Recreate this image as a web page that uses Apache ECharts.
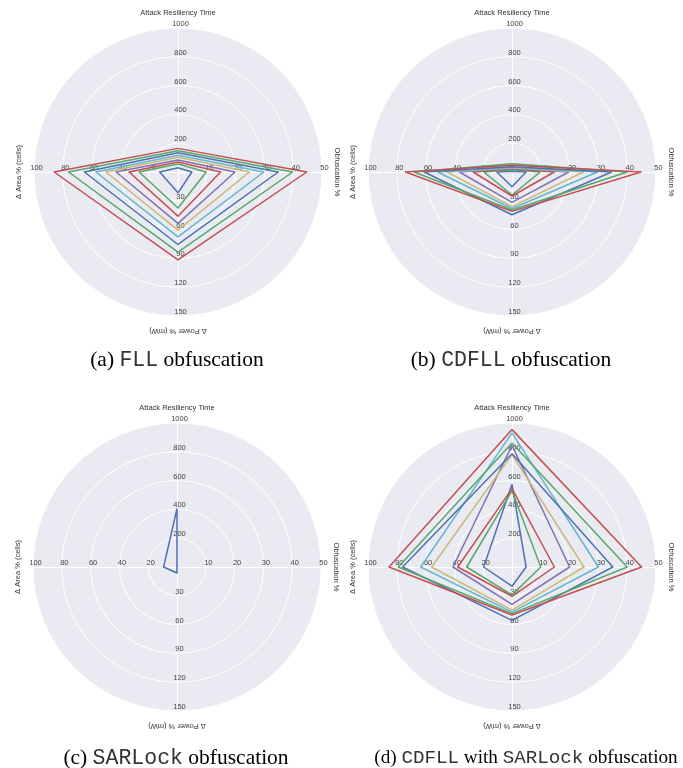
<!DOCTYPE html>
<html><head><meta charset="utf-8">
<script src="https://cdn.jsdelivr.net/npm/echarts@6/dist/echarts.min.js"></script>
<style>html,body{margin:0;padding:0;background:#fff}#c{width:683px;height:768px}</style>
</head><body><div id="c"></div>
<script>
// Indicator order (counter-clockwise from top): Attack, Area, Power, Obfuscation
const axisNames = ['Attack Resiliency Time', 'Δ Area % (cells)', 'Δ Power % (mW)', 'Obfuscation %'];
const axisMax = [1000, 100, 150, 50];
const lineColors = ['#4C72B0', '#55A868', '#C44E52', '#8172B2', '#CCB974', '#64B5CD', '#4C72B0', '#55A868', '#C44E52'];

// (a) FLL
const fllAttack = [30, 56, 69, 83, 102, 116, 134, 148, 164];
const fllArea   = [12.7, 27, 34, 43, 50, 57, 65, 76, 86];
const fllPower  = [21.7, 37.5, 46, 53.5, 60.5, 67.5, 75.5, 83.5, 91.5];
const fllObf    = [4.8, 9.8, 14.8, 19.8, 24.8, 29.8, 34.8, 39.8, 44.7];

// (b) CDFLL
const cdAttack = [6, 15, 20, 25, 28, 32, 36, 57, 47];
const cdArea   = [10.5, 19.5, 27, 36.5, 45, 51.6, 61, 68, 74];
const cdPower  = [15.3, 24, 25, 31.6, 36, 38, 44.5, 39.6, 41];
const cdObf    = [4.9, 9.8, 14.7, 19.7, 24.8, 29.7, 34.6, 40, 44.8];

// (c) SARLock
const sarAttack = [405];
const sarArea   = [9.3];
const sarPower  = [6.3];
const sarObf    = [0];

// (d) CDFLL with SARLock
const cdsAttack = [574, 528, 544, 845, 780, 931, 787, 861, 954];
const cdsArea   = [19.7, 31.5, 37.7, 41, 55.8, 63.4, 76, 79, 85.4];
const cdsPower  = [20, 29, 30.5, 39, 45, 47, 55.6, 48.6, 50];
const cdsObf    = [4.9, 10, 14.7, 20, 25, 30, 35, 40, 45];

const captionA = '{s|(a) }{m|FLL}{s| obfuscation}';
const captionB = '{s|(b) }{m|CDFLL}{s| obfuscation}';
const captionC = '{s|(c) }{m|SARLock}{s| obfuscation}';
const captionD = '{s|(d) }{m|CDFLL}{s| with }{m|SARLock}{s| obfuscation}';

const panels = [
  {center: [178, 172], att: fllAttack, area: fllArea, pow: fllPower, obf: fllObf, cap: captionA, capX: 177, capY: 360, capSize: 21.5},
  {center: [512, 172], att: cdAttack, area: cdArea, pow: cdPower, obf: cdObf, cap: captionB, capX: 511, capY: 360, capSize: 21.5},
  {center: [177, 567], att: sarAttack, area: sarArea, pow: sarPower, obf: sarObf, cap: captionC, capX: 176, capY: 758, capSize: 21.5},
  {center: [512, 567], att: cdsAttack, area: cdsArea, pow: cdsPower, obf: cdsObf, cap: captionD, capX: 526, capY: 758, capSize: 19.2}
];

const R = 144;
const nameOff = 159;
const radars = [], series = [], graphics = [];
panels.forEach((p, k) => {
  radars.push({
    center: p.center,
    radius: R,
    shape: 'circle',
    splitNumber: 5,
    startAngle: 90,
    indicator: axisNames.map((n, i) => ({name: '', min: 0, max: axisMax[i]})),
    axisName: {show: false},
    splitArea: {show: true, areaStyle: {color: ['#EAEAF2']}},
    splitLine: {lineStyle: {color: '#ffffff', width: 1}},
    axisLine: {lineStyle: {color: '#ffffff', width: 1}},
    axisTick: {show: false},
    axisLabel: {show: true, fontSize: 7.5, color: '#444', margin: 0, align: 'center', verticalAlign: 'bottom',
                padding: [0, 0, 0, 5], showMinLabel: false, fontFamily: 'Liberation Sans',
                formatter: v => String(v)}
  });
  series.push({
    type: 'radar',
    radarIndex: k,
    symbol: 'none',
    silent: true,
    data: p.att.map((v, i) => ({
      value: [p.att[i], p.area[i], p.pow[i], p.obf[i]],
      lineStyle: {color: lineColors[i], width: 1.5},
      itemStyle: {color: lineColors[i]}
    }))
  });
  const [cx, cy] = p.center;
  const nameStyle = {fontSize: 7.5, fill: '#333', align: 'center', verticalAlign: 'middle', fontFamily: 'Liberation Sans'};
  graphics.push({type: 'text', x: cx, y: cy - nameOff, style: Object.assign({text: axisNames[0]}, nameStyle)});
  graphics.push({type: 'text', x: cx - nameOff, y: cy, rotation: Math.PI / 2, style: Object.assign({text: axisNames[1]}, nameStyle)});
  graphics.push({type: 'text', x: cx, y: cy + nameOff, rotation: Math.PI, style: Object.assign({text: axisNames[2]}, nameStyle)});
  graphics.push({type: 'text', x: cx + nameOff, y: cy, rotation: -Math.PI / 2, style: Object.assign({text: axisNames[3]}, nameStyle)});
  graphics.push({type: 'text', x: p.capX, y: p.capY, style: {
    text: p.cap, align: 'center', verticalAlign: 'middle',
    rich: {
      s: {fontFamily: 'Liberation Serif', fontSize: p.capSize, fill: '#000'},
      m: {fontFamily: 'Liberation Mono', fontSize: p.capSize, fill: '#333'}
    }
  }});
});

const chart = echarts.init(document.getElementById('c'), null, {renderer: 'canvas'});
chart.setOption({
  animation: false,
  backgroundColor: '#ffffff',
  radar: radars,
  series: series,
  graphic: graphics
});
</script>
</body></html>
